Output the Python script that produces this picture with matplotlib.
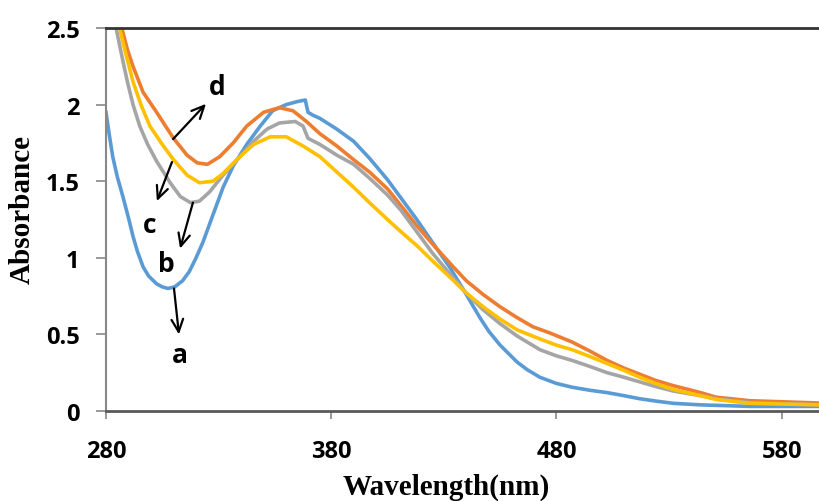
import numpy as np
import matplotlib
matplotlib.use('Agg')
import matplotlib.pyplot as plt
from matplotlib.ticker import FuncFormatter

# 데이터
wl_a = [280, 281.5, 283, 285, 287.5, 290, 292, 294, 296.5, 299, 302.5, 305, 307.5, 310.5, 314, 317,
        320, 323, 326, 329, 332, 336.5, 342.5, 348.5, 354, 360, 365, 368.5, 369.7, 372, 375, 382.5,
        390, 397, 405, 411, 418, 425, 433, 440, 446, 450, 455, 462.5, 467, 472.7, 480, 487, 495,
        502.5, 510, 517, 524, 532, 544, 566, 597]
abs_a = [1.95, 1.80, 1.66, 1.53, 1.40, 1.26, 1.14, 1.04, 0.94, 0.88, 0.83, 0.81, 0.80, 0.81, 0.85, 0.91,
         1.00, 1.10, 1.22, 1.34, 1.46, 1.60, 1.74, 1.86, 1.96, 2.00, 2.02, 2.03, 1.95, 1.93, 1.91, 1.84,
         1.76, 1.65, 1.51, 1.39, 1.25, 1.10, 0.93, 0.76, 0.61, 0.52, 0.43, 0.32, 0.27, 0.22, 0.18, 0.155,
         0.135, 0.12, 0.10, 0.08, 0.065, 0.05, 0.04, 0.03, 0.03]

wl_d = [287, 289.5, 292, 296.5, 302.5, 306, 310, 316, 320.5, 325, 330.5, 336.5, 342.5, 350, 357, 363,
        369, 375, 382.5, 390, 397, 405, 411, 418, 425, 433, 440, 447.5, 455, 462.5, 469.5, 477, 487,
        495, 502.5, 510, 517, 524, 532, 544, 551, 566, 597]
abs_d = [2.50, 2.36, 2.25, 2.08, 1.95, 1.87, 1.78, 1.67, 1.62, 1.61, 1.66, 1.75, 1.86, 1.95, 1.98, 1.96,
         1.89, 1.81, 1.73, 1.64, 1.56, 1.45, 1.34, 1.21, 1.09, 0.96, 0.85, 0.76, 0.68, 0.61, 0.55, 0.51, 0.45,
         0.39, 0.33, 0.28, 0.24, 0.20, 0.165, 0.12, 0.09, 0.067, 0.052]

wl_c = [284.5, 287, 289.5, 292, 295, 298.5, 302.5, 308.5, 313, 317.5, 321.5, 326, 332, 339.5, 345.5,
        351.5, 357, 364, 367.5, 369.7, 375, 382.5, 390, 397, 405, 411, 418, 425, 433, 440, 447.5, 455,
        462.5, 472.7, 480, 487, 495, 502.5, 510, 517, 524, 532, 544, 551, 566, 597]
abs_c = [2.50, 2.32, 2.15, 2.00, 1.86, 1.74, 1.63, 1.49, 1.40, 1.36, 1.37, 1.43, 1.54, 1.66, 1.76,
         1.84, 1.88, 1.89, 1.86, 1.78, 1.74, 1.67, 1.61, 1.52, 1.41, 1.31, 1.17, 1.03, 0.89, 0.77, 0.66, 0.57,
         0.49, 0.40, 0.36, 0.33, 0.29, 0.25, 0.22, 0.19, 0.16, 0.13, 0.10, 0.08, 0.055, 0.04]

wl_b = [286, 289, 292, 295.5, 299.5, 305, 310, 316, 321.5, 327.5, 332, 338, 345.5, 353, 360, 367.5,
        375, 382.5, 390, 397, 405, 411, 418, 425, 433, 440, 447.5, 455, 462.5, 472.7, 480, 487, 495,
        502.5, 510, 517, 524, 532, 544, 551, 566, 597]
abs_b = [2.50, 2.32, 2.15, 2.00, 1.86, 1.74, 1.64, 1.54, 1.49, 1.50, 1.55, 1.64, 1.74, 1.79, 1.79, 1.73,
         1.66, 1.56, 1.46, 1.36, 1.25, 1.17, 1.08, 0.98, 0.87, 0.77, 0.68, 0.60, 0.53, 0.47, 0.43, 0.40, 0.355,
         0.31, 0.265, 0.22, 0.18, 0.14, 0.10, 0.075, 0.05, 0.04]

x_ticks = [280, 380, 480, 580]
y_ticks = [0, 0.5, 1, 1.5, 2, 2.5]

# 화살표와 라벨 (시작점, 끝점, 라벨 위치)
marks = [
    ('a', (310.2, 0.80), (312.4, 0.50), (313, 0.37)),
    ('b', (318.6, 1.36), (312.9, 1.06), (307, 0.96)),
    ('c', (309.3, 1.625), (302.6, 1.37), (299.5, 1.22)),
    ('d', (309.8, 1.775), (324.4, 2.005), (329.3, 2.12)),
]

fig = plt.figure(figsize=(8.19, 5.02), dpi=100)
ax = fig.add_axes([0.1294, 0.1793, 0.8706, 0.7629])

lw = 2.6
ax.plot(wl_a, abs_a, color='#5B9BD5', lw=lw, solid_joinstyle='round')
ax.plot(wl_d, abs_d, color='#ED7D31', lw=lw, solid_joinstyle='round')
ax.plot(wl_c, abs_c, color='#A5A5A5', lw=lw, solid_joinstyle='round')
ax.plot(wl_b, abs_b, color='#FFC000', lw=lw, solid_joinstyle='round')

for lab, start, end, pos in marks:
    ax.annotate('', xy=end, xytext=start,
                arrowprops=dict(arrowstyle='->,head_length=0.9,head_width=0.42',
                                color='black', lw=1.6, shrinkA=0, shrinkB=0))
    ax.text(pos[0], pos[1], lab, fontsize=19, fontweight='bold', family='Open Sans',
            ha='center', va='center')

ax.set_xlim(280, 596.6)
ax.set_ylim(0, 2.5)
ax.set_xticks(x_ticks)
ax.set_yticks(y_ticks)
ax.yaxis.set_major_formatter(FuncFormatter(lambda v, p: '%g' % v))

for t in ax.get_xticklabels() + ax.get_yticklabels():
    t.set_family('Open Sans')
    t.set_fontweight('bold')
    t.set_fontsize(17)

ax.tick_params(axis='y', direction='out', length=7, width=1.2, color='#888888', pad=12)
ax.tick_params(axis='x', direction='out', length=6, width=1.2, color='#888888', pad=14)

ax.spines['left'].set_color('#888888')
ax.spines['left'].set_linewidth(1.5)
ax.spines['bottom'].set_color('#595959')
ax.spines['bottom'].set_linewidth(2)
ax.spines['top'].set_color('#333333')
ax.spines['top'].set_linewidth(2)
ax.spines['right'].set_visible(False)

fig.text(446 / 819, 0.014, 'Wavelength(nm)', family='Liberation Serif', fontweight='bold',
         fontsize=21, ha='center', va='baseline')
fig.text(22 / 819, 0.583, 'Absorbance', family='Liberation Serif', fontweight='bold',
         fontsize=21, ha='center', va='center', rotation=90)

fig.savefig('out.png', dpi=100)
